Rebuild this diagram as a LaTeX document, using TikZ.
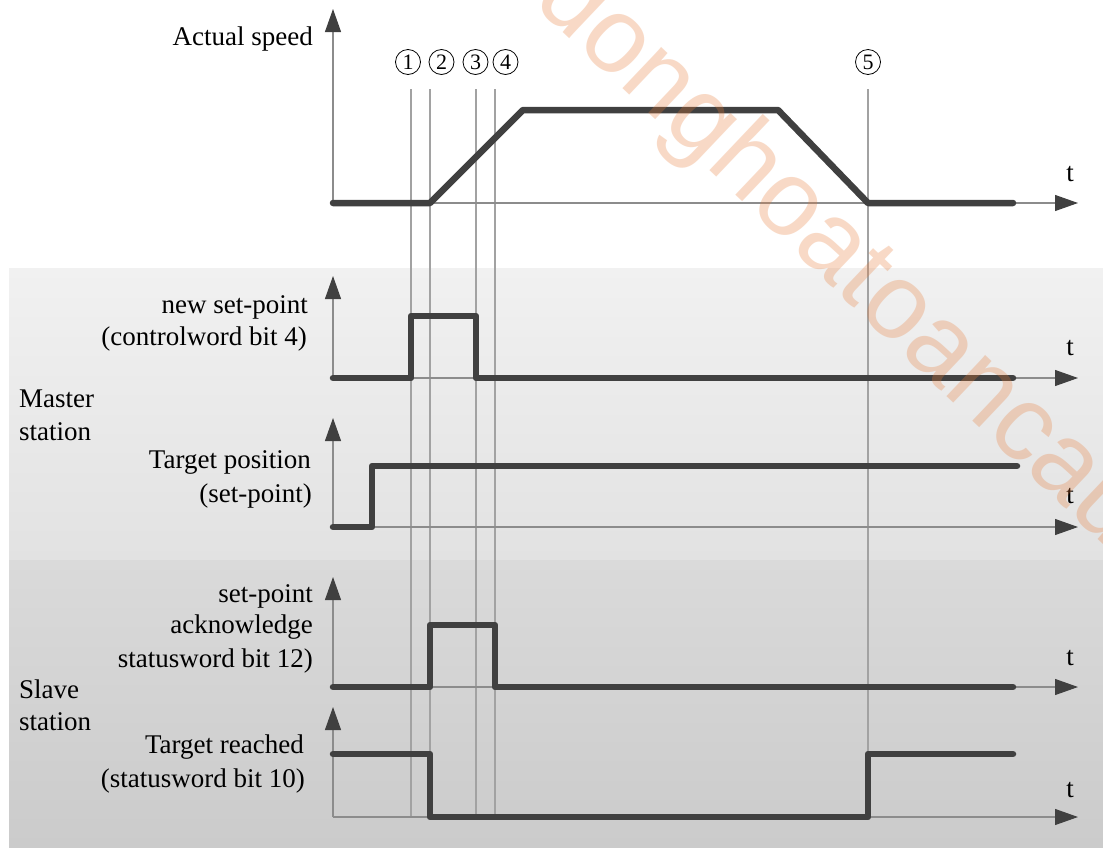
\documentclass[tikz,border=0pt]{standalone}
\usepackage{fontspec}
\setmainfont{Liberation Serif}
\newfontfamily\wmfont{Liberation Sans}
\usetikzlibrary{arrows.meta}
\definecolor{sig}{HTML}{404040}
\definecolor{axisc}{HTML}{8C8C8C}
\definecolor{markc}{HTML}{A2A2A2}
\definecolor{wmc}{HTML}{E87A35}
\definecolor{mtop}{HTML}{F1F1F1}
\definecolor{mbot}{HTML}{E2E2E2}
\definecolor{stop}{HTML}{DADADA}
\definecolor{sbot}{HTML}{CBCBCB}
\begin{document}
\begin{tikzpicture}[x=1pt,y=-1pt,
  signal/.style={draw=sig, line width=6.5pt, line cap=round, line join=round},
  axis/.style={draw=axisc, line width=1.1pt, -{Triangle[length=23pt,width=16pt,color=sig]}},
  marker/.style={draw=markc, line width=1.1pt},
  lbl/.style={font=\fontsize{27}{32}\selectfont, inner sep=0pt, anchor=base east},
  side/.style={font=\fontsize{27}{32}\selectfont, inner sep=0pt, anchor=base west},
  tlbl/.style={font=\fontsize{27}{32}\selectfont, inner sep=0pt, anchor=base},
  num/.style={circle, draw=black, line width=0.8pt, minimum size=25pt, inner sep=0pt, font=\fontsize{22}{22}\selectfont}
]
\useasboundingbox (0,0) rectangle (1103,847);
\fill[white] (0,0) rectangle (1103,847);
% bands
\shade[top color=mtop, bottom color=mbot] (9,268) rectangle (1103,560);
\shade[top color=stop, bottom color=sbot] (9,560) rectangle (1103,847);

% time markers
\coordinate (m1t) at (411,89);  \coordinate (m1b) at (411,817);
\coordinate (m2t) at (430,89);  \coordinate (m2b) at (430,817);
\coordinate (m3t) at (476,89);  \coordinate (m3b) at (476,817);
\coordinate (m4t) at (495,89);  \coordinate (m4b) at (495,817);
\coordinate (m5t) at (868,89);  \coordinate (m5b) at (868,817);
\draw[marker] (m1t) -- (m1b);
\draw[marker] (m2t) -- (m2b);
\draw[marker] (m3t) -- (m3b);
\draw[marker] (m4t) -- (m4b);
\draw[marker] (m5t) -- (m5b);

\node[num] (n1) at (408,62) {1};
\node[num] (n2) at (441.5,62) {2};
\node[num] (n3) at (475.5,62) {3};
\node[num] (n4) at (505.5,62) {4};
\node[num] (n5) at (868,62) {5};

% axes
\foreach \y/\tip/\nm in {203/9/a, 378/276/b, 527/418/c, 687/577/d, 817/707/e}{
  \coordinate (o\nm) at (333,\y);
  \coordinate (v\nm) at (333,\tip);
  \coordinate (h\nm) at (1078,\y);
  \draw[axis] (o\nm) -- (v\nm);
  \draw[axis] (o\nm) -- (h\nm);
}
\node[tlbl] (ta) at (1070,181) {t};
\node[tlbl] (tb) at (1070,355) {t};
\node[tlbl] (tc) at (1070,503) {t};
\node[tlbl] (td) at (1070,665) {t};
\node[tlbl] (te) at (1070,797) {t};

% signals
\draw[signal] (333,203) -- (430,203) -- (523,110) -- (778,110) -- (868,203) -- (1013,203);
\draw[signal] (333,378) -- (411,378) -- (411,316) -- (476,316) -- (476,378) -- (1013,378);
\draw[signal] (333,527) -- (372,527) -- (372,466) -- (1017,466);
\draw[signal] (333,687) -- (430,687) -- (430,625) -- (495,625) -- (495,687) -- (1013,687);
\draw[signal] (333,754) -- (430,754) -- (430,817) -- (868,817) -- (868,754) -- (1013,754);

% labels
\node[lbl] (l1) at (313,45) {Actual speed};
\node[lbl] (l2a) at (308,313) {new set-point};
\node[lbl] (l2b) at (307,345) {(controlword bit 4)};
\node[lbl] (l3a) at (311,468) {Target position};
\node[lbl] (l3b) at (312,502) {(set-point)};
\node[lbl] (l4a) at (313,602) {set-point};
\node[lbl] (l4b) at (313,633) {acknowledge};
\node[lbl] (l4c) at (313,667) {statusword bit 12)};
\node[lbl] (l5a) at (304,753) {Target reached};
\node[lbl] (l5b) at (305,787) {(statusword bit 10)};
\node[side] (ms1) at (19,407) {Master};
\node[side] (ms2) at (19,440) {station};
\node[side] (ss1) at (19,698) {Slave};
\node[side] (ss2) at (19,730) {station};

% watermark
\begin{scope}
\clip (0,0) rectangle (1103,847);
\node[anchor=base west, inner sep=0pt, rotate=-43.5, text=wmc, text opacity=0.28,
  font=\wmfont\fontsize{107}{110}\selectfont] (wm) at (466.6,-59.5) {tudonghoatoancau};
\end{scope}
\end{tikzpicture}
\end{document}
